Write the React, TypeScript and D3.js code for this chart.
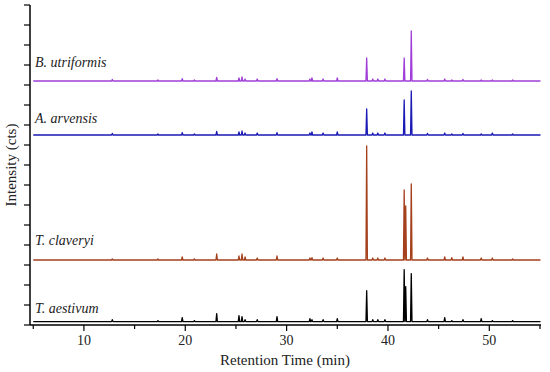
import React from "react";
import * as d3 from "d3";

// Retention times (min) of the peaks visible in the chromatograms
const peakTimes = [12.8, 17.3, 19.7, 20.9, 23.1, 25.3, 25.6, 25.9, 27.1, 29.05, 32.3, 32.5, 33.6, 35.0, 37.9, 38.5, 39.0, 39.7, 41.6, 41.75, 42.3, 43.9, 45.6, 46.3, 47.4, 49.2, 50.3, 52.3];

// Peak heights per sample (intensity units, same order as peakTimes)
const utriformisHeights = [0.08, 0.05, 0.12, 0.05, 0.18, 0.15, 0.2, 0.1, 0.1, 0.12, 0.1, 0.15, 0.1, 0.15, 1.15, 0.1, 0.1, 0.1, 1.15, 0.0, 2.5, 0.08, 0.1, 0.05, 0.08, 0.05, 0.05, 0.05];
const arvensisHeights = [0.08, 0.05, 0.12, 0.05, 0.18, 0.15, 0.2, 0.1, 0.1, 0.12, 0.1, 0.15, 0.1, 0.15, 1.3, 0.1, 0.1, 0.1, 1.75, 0.0, 2.2, 0.08, 0.1, 0.05, 0.08, 0.05, 0.1, 0.05];
const claveryiHeights = [0.05, 0.05, 0.15, 0.05, 0.3, 0.2, 0.3, 0.15, 0.1, 0.2, 0.1, 0.12, 0.1, 0.1, 5.7, 0.1, 0.1, 0.1, 3.5, 2.7, 3.8, 0.1, 0.15, 0.12, 0.15, 0.1, 0.1, 0.05];
const aestivumHeights = [0.1, 0.05, 0.2, 0.05, 0.4, 0.3, 0.25, 0.1, 0.1, 0.25, 0.15, 0.1, 0.1, 0.15, 1.55, 0.1, 0.1, 0.1, 2.6, 1.75, 2.4, 0.1, 0.2, 0.05, 0.1, 0.15, 0.05, 0.05];

// Baseline offsets of the stacked traces (intensity units)
const sampleNames = ["B. utriformis", "A. arvensis", "T. claveryi", "T. aestivum"];
const sampleOffsets = [12.2, 9.5, 3.25, 0.17];
const sampleColors = ["#a03fd8", "#1a1ab4", "#a4401c", "#000000"];
const sampleHeights = [utriformisHeights, arvensisHeights, claveryiHeights, aestivumHeights];

const xMajorTicks = [10, 20, 30, 40, 50];
const xMinorTicks = [5, 15, 25, 35, 45, 55];
const yTicks = d3.range(0, 17, 1);

const W = 550, H = 372;
const left = 30, right = 541, top = 5, bottom = 325;
const font = "'Liberation Serif', serif";

export default function App() {
  const x = d3.scaleLinear().domain([4.68, 55.1]).range([left, right]);
  const y = d3.scaleLinear().domain([0, 16]).range([bottom, top]);
  const halfWidth = 0.07;

  const line = d3
    .line<[number, number]>()
    .x((d) => x(d[0]))
    .y((d) => y(d[1]));

  const traces = sampleHeights.map((hs, i) => {
    const base = sampleOffsets[i];
    const pts: [number, number][] = [[5, base]];
    peakTimes.forEach((t, k) => {
      const h = hs[k];
      if (h <= 0) return;
      pts.push([t - halfWidth, base]);
      pts.push([t, base + h]);
      pts.push([t + halfWidth, base]);
    });
    pts.push([55.05, base]);
    return line(pts) || "";
  });

  const labelY = [67, 123, 245, 313];

  return (
    <svg width={W} height={H} style={{ position: "absolute", left: 0, top: 0, background: "#fff" }}>
      {traces.map((d, i) => (
        <path key={i} d={d} fill="none" stroke={sampleColors[i]} strokeWidth={1.3} strokeLinejoin="round" />
      ))}
      {sampleNames.map((n, i) => (
        <text key={n} x={35} y={labelY[i]} style={{ fontFamily: font }} fontStyle="italic" fontSize={14} fill="#222">
          {n}
        </text>
      ))}
      {/* axes */}
      <line x1={left} x2={left} y1={top} y2={bottom} stroke="#000" strokeWidth={1.5} />
      <line x1={left} x2={right} y1={bottom} y2={bottom} stroke="#000" strokeWidth={1.5} />
      {yTicks.map((t) => (
        <line key={t} x1={left - 6} x2={left} y1={y(t)} y2={y(t)} stroke="#000" strokeWidth={1.2} />
      ))}
      {xMajorTicks.map((t) => (
        <g key={t}>
          <line x1={x(t)} x2={x(t)} y1={bottom} y2={bottom + 6} stroke="#000" strokeWidth={1.2} />
          <text x={x(t)} y={345} textAnchor="middle" style={{ fontFamily: font }} fontSize={14} fill="#222">
            {t}
          </text>
        </g>
      ))}
      {xMinorTicks.map((t) => (
        <line key={t} x1={x(t)} x2={x(t)} y1={bottom} y2={bottom + 4} stroke="#000" strokeWidth={1.2} />
      ))}
      <text x={285} y={365} textAnchor="middle" style={{ fontFamily: font }} fontSize={15} fill="#222">
        Retention Time (min)
      </text>
      <text transform={`translate(16,165) rotate(-90)`} textAnchor="middle" style={{ fontFamily: font }} fontSize={15} fill="#222">
        Intensity (cts)
      </text>
    </svg>
  );
}
